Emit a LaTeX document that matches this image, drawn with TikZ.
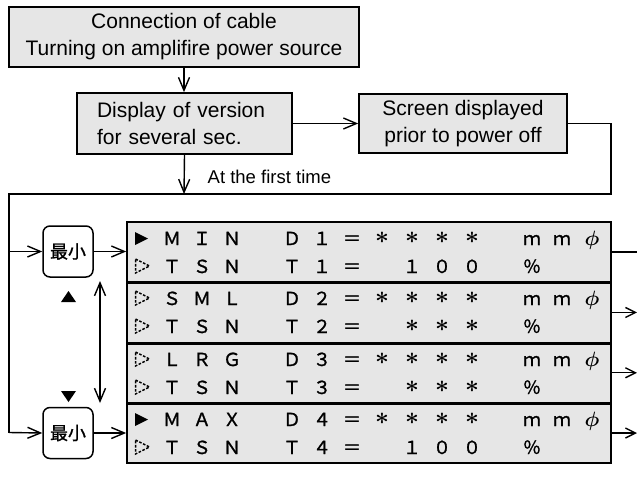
\documentclass[tikz,border=0pt]{standalone}
\usepackage{fontspec}
\usepackage{graphicx}
\setmainfont{Liberation Sans}
\newfontfamily\cjk{Noto Sans CJK JP}
\newfontfamily\pfont[FakeBold=1.2]{Noto Sans CJK JP}
\usetikzlibrary{arrows.meta}
\definecolor{boxgray}{RGB}{230,230,230}
\newcommand\prow[3]{%
  \foreach \ch [count=\i from 1] in {#3} {%
    \node[pch] (#2-\i) at ({142+30*\i}, #1) {\ch};
  }%
}
\newcommand\myast{\raisebox{1.8pt}{\scalebox{1.4}{\boldmath$\ast$}}}
\newcommand\myph{{\fontsize{21}{21}\selectfont\boldmath$\phi$}}
\begin{document}
\begin{tikzpicture}[x=1pt,y=-1pt,line width=1.4pt,
  arr/.style={-{Straight Barb[length=13pt,width=11pt,line width=1.4pt]}},
  darr/.style={{Straight Barb[length=13pt,width=11pt,line width=1.4pt]}-{Straight Barb[length=13pt,width=11pt,line width=1.4pt]}},
  flowbox/.style={draw,line width=1.7pt,fill=boxgray,inner sep=0pt,font=\fontsize{21}{27}\selectfont},
  btn/.style={draw,line width=1.5pt,fill=white,rounded corners=7pt,minimum width=50pt,minimum height=51pt,inner sep=0pt,font=\pfont\fontsize{18}{20}\selectfont},
  sec/.style={draw,line width=1.7pt,fill=boxgray,minimum width=484pt,minimum height=60.3pt,inner sep=0pt},
  pch/.style={anchor=base,inner sep=0pt,font=\pfont\fontsize{18}{18}\selectfont},
  lbl/.style={font=\fontsize{18.5}{20}\selectfont,inner sep=0pt}
]
\useasboundingbox (0,0) rectangle (637,479);

% flow boxes
\node[flowbox,minimum width=350pt,minimum height=60pt,align=center] (b1) at (184,37)
  {Connection of cable\\Turning on amplifire power source};
\node[flowbox,minimum width=215pt,minimum height=61pt,text width=175pt,inner xsep=20pt,align=left] (b2) at (184.5,123.5)
  {Display of version\\for several sec.};
\node[flowbox,minimum width=208pt,minimum height=59pt,align=center] (b3) at (463,123.5)
  {Screen displayed\\prior to power off};

\draw[arr] (b1.south) -- (b1.south |- b2.north);
\draw[arr] (b2.east) -- (b3.west);

\coordinate (c1) at (611,123.5);
\coordinate (c2) at (611,194);
\coordinate (c3) at (9,194);
\coordinate (c4) at (9,432.5);
\coordinate (c5) at (184,194);
\draw (b3.east) -- (c1) -- (c2) -- (c3) -- (c4);
\draw[arr] (b2.south) -- (c5);
\node[lbl,anchor=west] (first) at (207,177) {At the first time};

% buttons
\node[btn] (k1) at (68,251.5) {最小};
\node[btn] (k2) at (68,433) {最小};
\draw[arr] (k1.west -| c3) -- (k1.west);
\draw[arr] (c4) -- (k2.west);

% panel sections
\node[sec] (s1) at (369,252.15) {};
\node[sec] (s2) at (369,312.45) {};
\node[sec] (s3) at (369,372.75) {};
\node[sec] (s4) at (369,433.05) {};
\draw[line width=2.3pt] (s1.south west) -- (s1.south east);
\draw[line width=2.3pt] (s2.south west) -- (s2.south east);
\draw[line width=2.3pt] (s3.south west) -- (s3.south east);

\draw[arr] (k1.east) -- (k1.east -| s1.west);
\draw[arr] (k2.east) -- (k2.east -| s4.west);

% right exits
\coordinate (e1) at (640,252.15);
\coordinate (e2) at (637,312.45);
\coordinate (e3) at (637,372.75);
\coordinate (e4) at (637,433.05);
\draw (s1.east) -- (e1);
\draw[-{Straight Barb[length=10pt,width=10pt,line width=1.4pt]}] (s2.east) -- (e2);
\draw[-{Straight Barb[length=10pt,width=10pt,line width=1.4pt]}] (s3.east) -- (e3);
\draw[-{Straight Barb[length=10pt,width=10pt,line width=1.4pt]}] (s4.east) -- (e4);

% up/down marks and double arrow
\fill (61,302) -- (68.5,291) -- (76,302) -- cycle;
\fill (61,391) -- (68.5,402) -- (76,391) -- cycle;
\coordinate (d1) at (100,281);
\coordinate (d2) at (100,403);
\draw[darr] (d1) -- (d2);

% cursor triangles
\foreach \b in {245,426} {
  \fill (135,\b-13) -- (148,\b-6.5) -- (135,\b) -- cycle;
}
\foreach \b in {273,305,333,366,394,454} {
  \draw[line width=1.5pt,dash pattern=on 2.6pt off 1.6pt] (135.5,\b-14) -- (149.5,\b-7) -- (135.5,\b) -- cycle;
}

% panel text
\prow{245}{r1}{Ｍ,Ｉ,Ｎ,,Ｄ,１,＝,\myast,\myast,\myast,\myast,,ｍ,ｍ,\myph}
\prow{273}{r2}{Ｔ,Ｓ,Ｎ,,Ｔ,１,＝,,１,０,０,,％}
\prow{305}{r3}{Ｓ,Ｍ,Ｌ,,Ｄ,２,＝,\myast,\myast,\myast,\myast,,ｍ,ｍ,\myph}
\prow{333}{r4}{Ｔ,Ｓ,Ｎ,,Ｔ,２,＝,,\myast,\myast,\myast,,％}
\prow{366}{r5}{Ｌ,Ｒ,Ｇ,,Ｄ,３,＝,\myast,\myast,\myast,\myast,,ｍ,ｍ,\myph}
\prow{394}{r6}{Ｔ,Ｓ,Ｎ,,Ｔ,３,＝,,\myast,\myast,\myast,,％}
\prow{426}{r7}{Ｍ,Ａ,Ｘ,,Ｄ,４,＝,\myast,\myast,\myast,\myast,,ｍ,ｍ,\myph}
\prow{454}{r8}{Ｔ,Ｓ,Ｎ,,Ｔ,４,＝,,１,０,０,,％}
\end{tikzpicture}
\end{document}
